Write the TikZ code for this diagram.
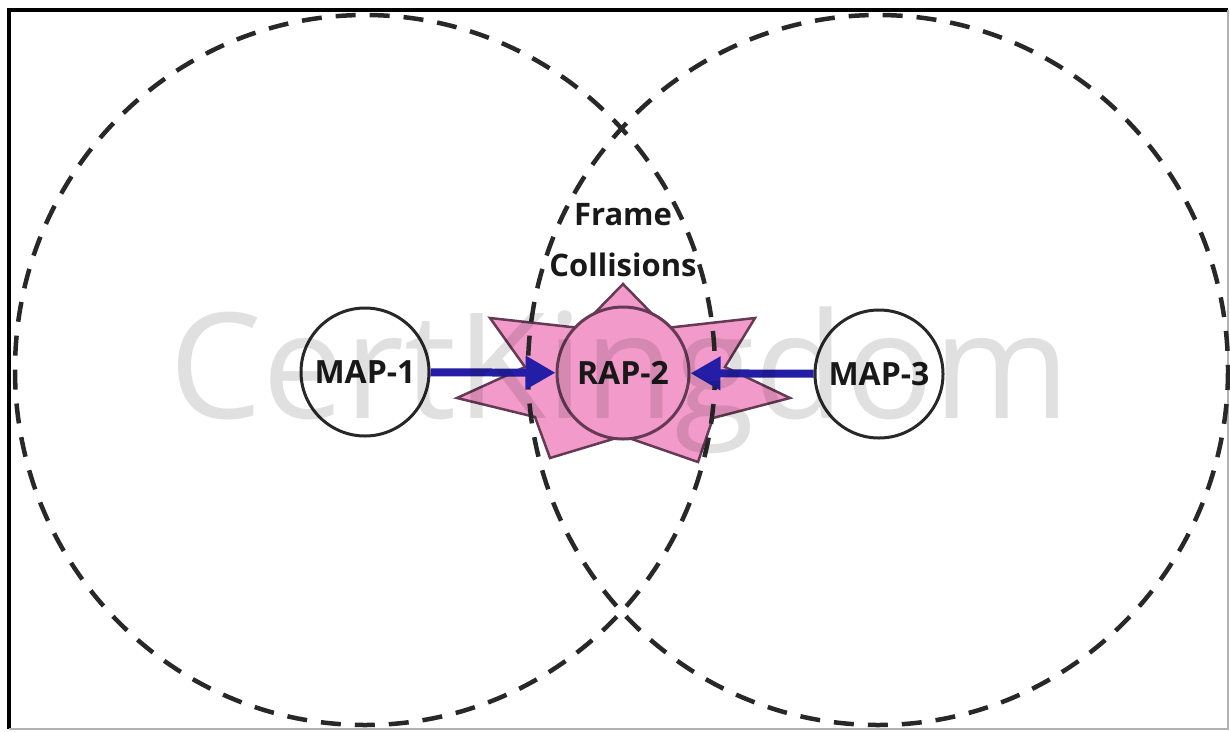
\documentclass[tikz,border=0pt]{standalone}
\usepackage{fontspec}
\setmainfont{Open Sans}
\usetikzlibrary{arrows.meta}
\definecolor{pinkfill}{RGB}{242,155,203}
\definecolor{starline}{RGB}{100,58,84}
\definecolor{arrowblue}{RGB}{35,30,165}
\definecolor{linegray}{RGB}{40,40,40}
\definecolor{txt}{RGB}{25,25,25}
\begin{document}
\begin{tikzpicture}[x=1pt,y=-1pt,
  station/.style={circle, draw=linegray, line width=3pt, fill=white,
    minimum size=128pt, inner sep=0pt, text=txt,
    font=\fontsize{32}{36}\selectfont\bfseries},
  coverage/.style={draw=linegray, line width=4.5pt, dash pattern=on 20pt off 14pt},
  beam/.style={draw=arrowblue, line width=8pt,
    -{Triangle[length=30pt,width=32pt,fill=arrowblue]}},
  lbl/.style={font=\fontsize{31}{35}\selectfont\bfseries, inner sep=0pt, text=txt},
  wmark/.style={font=\fontsize{147}{150}\selectfont, text=black, opacity=0.12, inner sep=0pt}]
\useasboundingbox (0,0) rectangle (1230,731);
% frame border
\draw[black, line width=3.5pt] (9,729) -- (9,10) -- (1228,10);
\draw[gray!60, line width=1.2pt] (1228,10) -- (1228,729) -- (9,729);
% collision star
\draw[fill=pinkfill, draw=starline, line width=2.5pt, line join=miter]
  (623,284) -- (666,328) -- (755,318) -- (725,367) -- (790,398) -- (713,418)
  -- (698,462) -- (623,436) -- (550,458) -- (535,417) -- (457,398) -- (525,367)
  -- (490,318) -- (580,328) -- cycle;
% coverage areas
\draw[coverage] (365,370) ellipse [x radius=350, y radius=355];
\draw[coverage] (878,370) ellipse [x radius=350, y radius=355];
% stations
\node[station] (map1) at (365,372) {MAP-1};
\node[station] (map3) at (879,374) {MAP-3};
\node[station, fill=pinkfill, draw=starline, minimum size=132pt] (rap2) at (623,373) {RAP-2};
% transmissions
\draw[beam] (map1) -- (rap2);
\draw[beam] (map3) -- (rap2);
% label
\node[lbl, anchor=base] (frame) at (623,225) {Frame};
\node[lbl, anchor=base] (coll) at (623,276) {Collisions};
% watermark
\node[wmark, anchor=base] (wm) at (620,418) {CertKingdom};
\end{tikzpicture}
\end{document}
